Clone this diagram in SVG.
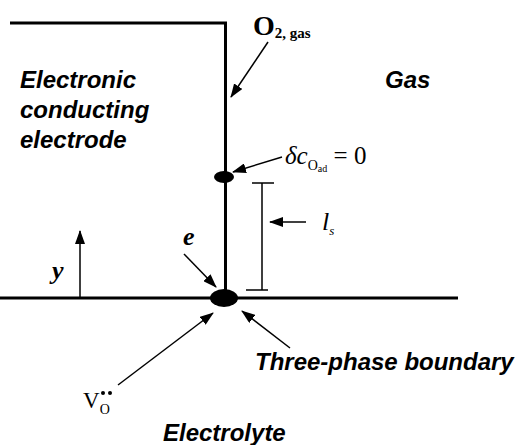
<svg xmlns="http://www.w3.org/2000/svg" width="525" height="445" viewBox="0 0 525 445">
<style>
.lbl{font-family:"Liberation Sans",Arial,sans-serif;font-weight:bold;font-style:italic;font-size:24px;fill:#000}
.ser{font-family:"Liberation Serif","Times New Roman",serif;fill:#000}
.thick{stroke:#000;stroke-width:3;fill:none}
.thin{stroke:#000;stroke-width:1.5;fill:none}
</style>
<defs>
<marker id="ah" markerUnits="userSpaceOnUse" markerWidth="14" markerHeight="10" refX="13" refY="5" orient="auto">
<path d="M0,0 L14,5 L0,10 Z" fill="#000"/>
</marker>
</defs>
<g id="electrode">
<path class="thick" d="M10,23 H225.5 V298"/>
</g>
<g id="interface">
<line class="thick" x1="0" y1="298" x2="458" y2="298"/>
</g>
<g id="tpb-dot"><ellipse cx="224" cy="298" rx="14" ry="9" fill="#000"/></g>
<g id="ads-dot"><ellipse cx="224" cy="177" rx="10" ry="6" fill="#000"/></g>
<g id="ls-bracket">
<path class="thin" d="M252,183 H274 M262,183 V290 M246,290 H268"/>
</g>
<g id="connectors">
<line class="thin" x1="268" y1="42" x2="231" y2="97" marker-end="url(#ah)"/>
<line class="thin" x1="282" y1="157" x2="233" y2="172" marker-end="url(#ah)"/>
<line class="thin" x1="306" y1="222" x2="270" y2="222" marker-end="url(#ah)"/>
<line class="thin" x1="80" y1="297" x2="80" y2="231" marker-end="url(#ah)"/>
<line class="thin" x1="184" y1="254" x2="216" y2="287" marker-end="url(#ah)"/>
<line class="thin" x1="118" y1="385" x2="213" y2="313" marker-end="url(#ah)"/>
<line class="thin" x1="290" y1="348" x2="242" y2="311" marker-end="url(#ah)"/>
</g>
<g id="o2-label"><text class="ser" font-weight="bold" x="253" y="35" font-size="28">O<tspan font-size="15" dy="3">2, gas</tspan></text></g>
<g id="gas-label"><text class="lbl" x="385" y="88">Gas</text></g>
<g id="electrode-label">
<text class="lbl" x="20" y="88">Electronic</text>
<text class="lbl" x="20" y="118">conducting</text>
<text class="lbl" x="20" y="148">electrode</text>
</g>
<g id="delta-label"><text class="ser" x="285" y="164" font-size="25" font-style="italic">δc<tspan font-size="14" font-style="normal" dy="6">O</tspan><tspan font-size="10" font-style="normal" dy="2">ad</tspan><tspan font-size="25" font-style="normal" dy="-8"> = 0</tspan></text></g>
<g id="ls-label"><text class="ser" x="322" y="230" font-size="26" font-style="italic">l<tspan font-size="13" dy="5">s</tspan></text></g>
<g id="y-label"><text class="ser" x="52" y="279" font-size="26" font-style="italic" font-weight="bold">y</text></g>
<g id="e-label"><text class="ser" x="183" y="245" font-size="26" font-style="italic" font-weight="bold">e</text></g>
<g id="v-label"><text class="ser" x="83" y="408" font-size="23">V<tspan font-size="14" dy="6">O</tspan></text>
<circle cx="103" cy="393" r="2" fill="#000"/><circle cx="110" cy="393" r="2" fill="#000"/></g>
<g id="tpb-label"><text class="lbl" x="255" y="370">Three-phase boundary</text></g>
<g id="electrolyte-label"><text class="lbl" x="163" y="441">Electrolyte</text></g>
</svg>
